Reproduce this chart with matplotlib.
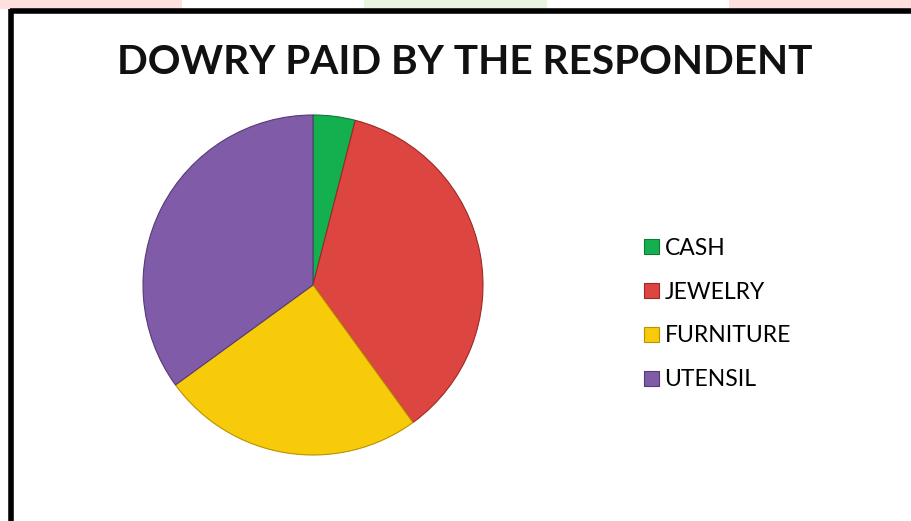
import matplotlib
matplotlib.use("Agg")
import matplotlib.pyplot as plt
from matplotlib.patches import Rectangle
from matplotlib.lines import Line2D

categories = ["CASH", "JEWELRY", "FURNITURE", "UTENSIL"]
values = [4, 36, 25, 35]
colors = ["#14B04F", "#DC4540", "#F7CB0A", "#7F5BA8"]
edge_colors = ["#0B7A35", "#9A2A26", "#B89200", "#553A78"]
title = "DOWRY PAID BY THE RESPONDENT"

W, H = 911, 521
fig = plt.figure(figsize=(W / 100, H / 100), dpi=100)
fig.patch.set_facecolor("white")

# faint banner strip at very top
strip_cols = ["#FFE0DC", "#FFFFFF", "#E8F5E0", "#FFFFFF", "#FFE0DC"]
for i, c in enumerate(strip_cols):
    fig.add_artist(Rectangle((i / 5, 1 - 9 / H), 1 / 5, 9 / H, transform=fig.transFigure,
                             facecolor=c, edgecolor="none", zorder=0))
# black frame (top and left)
fig.add_artist(Line2D([10 / W, 1], [1 - 11 / H, 1 - 11 / H], transform=fig.transFigure,
                      color="black", lw=4, solid_capstyle="butt"))
fig.add_artist(Line2D([11 / W, 11 / W], [1 - 9 / H, 0], transform=fig.transFigure,
                      color="black", lw=4, solid_capstyle="butt"))

# pie
cx, cy, r = 313, 285, 170
ax = fig.add_axes([(cx - r) / W, (H - cy - r) / H, 2 * r / W, 2 * r / H])
wedges, _ = ax.pie(values, colors=colors, startangle=90, counterclock=False,
                   wedgeprops=dict(linewidth=0.8, edgecolor="#555555"))
for w, ec in zip(wedges, edge_colors):
    w.set_edgecolor(ec)
ax.set_aspect("equal")
ax.set_xlim(-1.0, 1.0)
ax.set_ylim(-1.0, 1.0)
ax.axis("off")

fig.text(465 / W, 1 - 62 / H, title, ha="center", va="center", fontsize=29.2,
         fontweight="bold", family="Lato", color="#111111")

handles = [Rectangle((0, 0), 1, 1, facecolor=c, edgecolor=e, lw=0.8)
           for c, e in zip(colors, edge_colors)]
fig.legend(handles, categories, loc="center left",
           bbox_to_anchor=(644 / W, 1 - 314 / H), frameon=False,
           prop=dict(family="Lato", size=16.5), handlelength=0.65, handleheight=0.65,
           handletextpad=0.25, labelspacing=1.0, borderpad=0, borderaxespad=0)

fig.savefig("out.png", dpi=100, facecolor="white")
